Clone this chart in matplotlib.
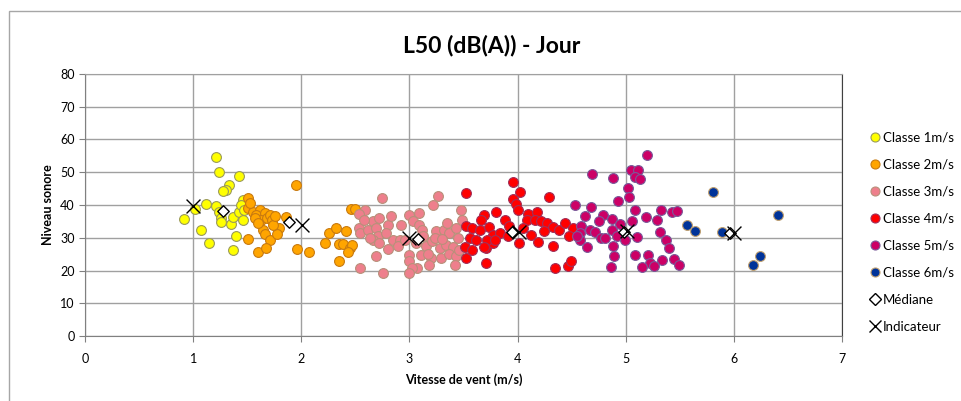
import matplotlib
matplotlib.use('Agg')
import matplotlib.pyplot as plt
from matplotlib.patches import Rectangle
from matplotlib.lines import Line2D

plt.rcParams['font.family'] = ['Lato', 'DejaVu Sans']

# classe 1 m/s
x1 = [1.21, 1.24, 1.42, 1.33, 1.30, 1.28, 1.12, 1.02, 1.21, 0.92, 1.24, 1.26, 1.26, 1.35,
      1.37, 1.42, 1.46, 1.46, 1.44, 1.47, 1.07, 1.15, 1.40, 1.37]
y1 = [54.7, 50.2, 49.0, 46.0, 44.7, 44.2, 40.4, 38.8, 39.6, 35.7, 37.8, 36.0, 34.7, 34.1,
      36.3, 38.0, 41.6, 35.5, 40.0, 38.5, 32.4, 28.4, 30.4, 26.3]
# classe 2 m/s
x2 = [1.51, 1.51, 1.55, 1.62, 1.58, 1.66, 1.63, 1.68, 1.71, 1.73, 1.65, 1.66, 1.71, 1.79,
      1.78, 1.51, 1.60, 1.67, 1.86, 1.95, 1.96, 2.07, 2.46, 2.50, 2.26, 2.32, 2.41, 2.22,
      2.35, 2.39, 2.45, 2.47, 2.43, 2.35, 1.53, 1.57, 1.74, 1.60, 1.76]
y2 = [42.1, 39.0, 38.0, 38.6, 37.0, 37.7, 35.5, 36.0, 37.0, 35.5, 32.4, 31.0, 29.4, 33.0,
      31.0, 29.7, 25.8, 26.8, 36.3, 46.2, 26.5, 25.8, 38.8, 38.8, 31.4, 33.0, 32.0, 28.4,
      28.2, 28.2, 26.8, 27.9, 25.8, 22.8, 40.5, 36.0, 34.0, 34.5, 36.5]
# classe 3 m/s
x3 = [2.59, 2.53, 2.75, 2.53, 2.54, 2.62, 2.66, 2.72, 2.69, 2.80, 2.71, 2.66, 2.72, 2.80,
      2.85, 2.91, 2.89, 2.92, 2.69, 2.54, 2.76, 3.00, 3.09, 3.03, 3.09, 3.12, 3.26, 3.22,
      3.25, 3.32, 3.37, 3.43, 3.48, 3.49, 3.06, 3.15, 3.21, 3.11, 3.20, 3.28, 3.34, 3.40,
      3.29, 3.37, 3.43, 3.42, 3.46, 3.18, 3.00, 3.00, 3.07, 3.02, 3.00, 2.96,
      2.58, 2.64, 2.78, 2.83, 3.13, 3.17, 3.24, 3.30, 3.35, 3.45]
y3 = [38.6, 37.3, 42.1, 33.0, 31.4, 32.4, 35.0, 36.0, 33.0, 34.0, 30.4, 29.4, 28.4, 26.5,
      29.4, 29.4, 27.5, 34.0, 24.5, 20.7, 19.2, 37.0, 37.5, 35.0, 34.0, 32.4, 42.9, 40.1,
      32.2, 32.4, 31.6, 33.0, 38.6, 35.5, 28.4, 27.5, 28.9, 24.8, 23.8, 26.8, 27.9, 27.3,
      23.8, 25.1, 24.3, 21.7, 26.3, 21.7, 24.8, 22.8, 20.7, 20.7, 19.2, 29.4,
      35.5, 30.0, 31.5, 36.5, 30.5, 25.0, 30.0, 29.5, 34.5, 30.0]
# classe 4 m/s
x4 = [3.52, 3.69, 3.80, 3.66, 3.52, 3.58, 3.65, 3.74, 3.77, 3.56, 3.62, 3.51, 3.58, 3.71,
      3.77, 3.52, 3.71, 3.96, 4.02, 3.96, 3.99, 4.00, 4.29, 3.88, 4.10, 4.18, 4.09, 4.16,
      4.22, 4.27, 4.33, 4.38, 4.44, 4.51, 4.48, 3.84, 3.91, 3.72, 3.79, 3.69, 4.01, 4.12,
      4.19, 4.33, 4.35, 4.47, 4.49, 4.24, 3.92, 4.05]
y4 = [43.7, 37.0, 37.8, 35.5, 33.5, 33.0, 32.4, 33.3, 30.9, 29.9, 29.4, 27.3, 26.3, 26.8,
      28.4, 23.8, 22.3, 46.9, 43.9, 41.8, 40.4, 38.6, 42.3, 35.5, 37.3, 38.0, 35.3, 35.5,
      35.0, 34.5, 33.3, 32.4, 34.5, 33.0, 30.6, 31.4, 30.4, 29.4, 29.4, 27.3, 28.4, 30.9,
      28.6, 27.6, 20.7, 21.4, 23.0, 32.0, 33.5, 33.0]
# classe 5 m/s
x5 = [4.69, 4.88, 5.05, 5.11, 5.09, 5.13, 5.20, 5.02, 5.03, 4.93, 4.53, 4.68, 4.62, 4.79,
      4.75, 4.87, 4.95, 5.06, 5.09, 5.19, 5.29, 5.33, 5.43, 5.47, 5.32, 4.59, 4.58, 4.67,
      4.72, 4.77, 4.87, 4.92, 4.99, 5.10, 4.58, 4.64, 4.88, 5.37, 5.40, 4.89, 5.09, 5.21,
      5.22, 5.34, 5.45, 5.49, 5.15, 5.26, 4.86, 4.55, 4.81]
y5 = [49.6, 48.3, 50.8, 50.8, 48.6, 47.8, 55.2, 45.2, 42.4, 41.3, 40.1, 39.4, 36.5, 37.0,
      35.0, 35.7, 34.3, 35.0, 38.6, 36.3, 35.5, 38.6, 37.8, 38.1, 31.9, 33.5, 31.4, 32.4,
      31.9, 29.9, 32.4, 30.4, 29.4, 30.2, 29.4, 27.3, 27.6, 29.4, 26.8, 24.5, 24.8, 24.8,
      22.4, 23.3, 23.6, 21.7, 21.2, 21.4, 21.0, 30.4, 29.9]
# classe 6 m/s
x6 = [5.57, 5.64, 5.81, 5.89, 6.41, 6.24, 6.18]
y6 = [33.9, 32.0, 44.0, 31.8, 37.0, 24.5, 21.7]

x_med = [1.28, 1.89, 3.08, 3.95, 4.98, 5.96]
y_med = [38.3, 34.8, 29.6, 31.9, 31.9, 31.6]
x_ind = [1.00, 2.01, 3.00, 4.01, 5.01, 6.00]
y_ind = [39.6, 34.0, 29.9, 31.9, 32.2, 31.6]

labels = ['Classe 1m/s', 'Classe 2m/s', 'Classe 3m/s', 'Classe 4m/s', 'Classe 5m/s', 'Classe 6m/s']
faces = ['#FFFF00', '#FFA500', '#EE7F8C', '#FF0000', '#CC0066', '#003399']
edges = ['#9A9A5A', '#C87A10', '#B8907A', '#A0305A', '#7A5A9A', '#C0A070']

W, H = 961, 401
fig = plt.figure(figsize=(W / 100, H / 100), dpi=100)
fig.patches.append(Rectangle((9 / W, -0.1), 1.2, 1.1 - 11 / H, transform=fig.transFigure,
                             fill=False, edgecolor='#A6A6A6', linewidth=1.0))
ax = fig.add_axes([85 / W, 1 - 336 / H, (842 - 85) / W, (336 - 74) / H])

series = [(x1, y1), (x2, y2), (x3, y3), (x4, y4), (x5, y5), (x6, y6)]
for (xs, ys), fc, ec in zip(series, faces, edges):
    ax.scatter(xs, ys, s=50, c=fc, edgecolors=ec, linewidths=0.8, zorder=3)
ax.scatter(x_med, y_med, marker='D', s=34, facecolors='white', edgecolors='black',
           linewidths=1.0, zorder=5)
ax.scatter(x_ind, y_ind, marker='x', s=100, c='black', linewidths=1.0, zorder=6)

ax.set_xlim(0, 7)
ax.set_ylim(0, 80)
ax.set_xticks(range(8))
ax.set_yticks(range(0, 81, 10))
ax.grid(True, color='#A0A0A0', linewidth=1.0, zorder=0)
ax.set_axisbelow(True)
for side in ['left', 'bottom']:
    ax.spines[side].set_color('#808080')
ax.spines['top'].set_color('#A0A0A0')
ax.spines['right'].set_color('#404040')
ax.tick_params(axis='both', colors='#808080', labelcolor='black', labelsize=9,
               length=4, direction='out')
ax.tick_params(axis='x', pad=8)
ax.set_xlabel('Vitesse de vent (m/s)', fontsize=9, fontweight='bold', labelpad=6)
ax.set_ylabel('Niveau sonore', fontsize=9, fontweight='bold', labelpad=4)
fig.text(492 / W, 1 - 45 / H, 'L50 (dB(A)) - Jour', ha='center', va='center',
         fontsize=16.5, fontweight='bold')

handles = [Line2D([], [], linestyle='none', marker='o', markersize=6.5,
                  markerfacecolor=fc, markeredgecolor=ec, markeredgewidth=0.8)
           for fc, ec in zip(faces, edges)]
handles.append(Line2D([], [], linestyle='none', marker='D', markersize=6,
                      markerfacecolor='white', markeredgecolor='black'))
handles.append(Line2D([], [], linestyle='none', marker='x', markersize=8,
                      markeredgecolor='black', markeredgewidth=1.0))
leg = fig.legend(handles, labels + ['Médiane', 'Indicateur'], loc='upper left',
                 bbox_to_anchor=(864 / W, 1 - 126 / H), frameon=False, fontsize=9.5,
                 handlelength=0.8, handletextpad=0.25, labelspacing=1.14, borderaxespad=0)

fig.savefig('out.png', dpi=100)
